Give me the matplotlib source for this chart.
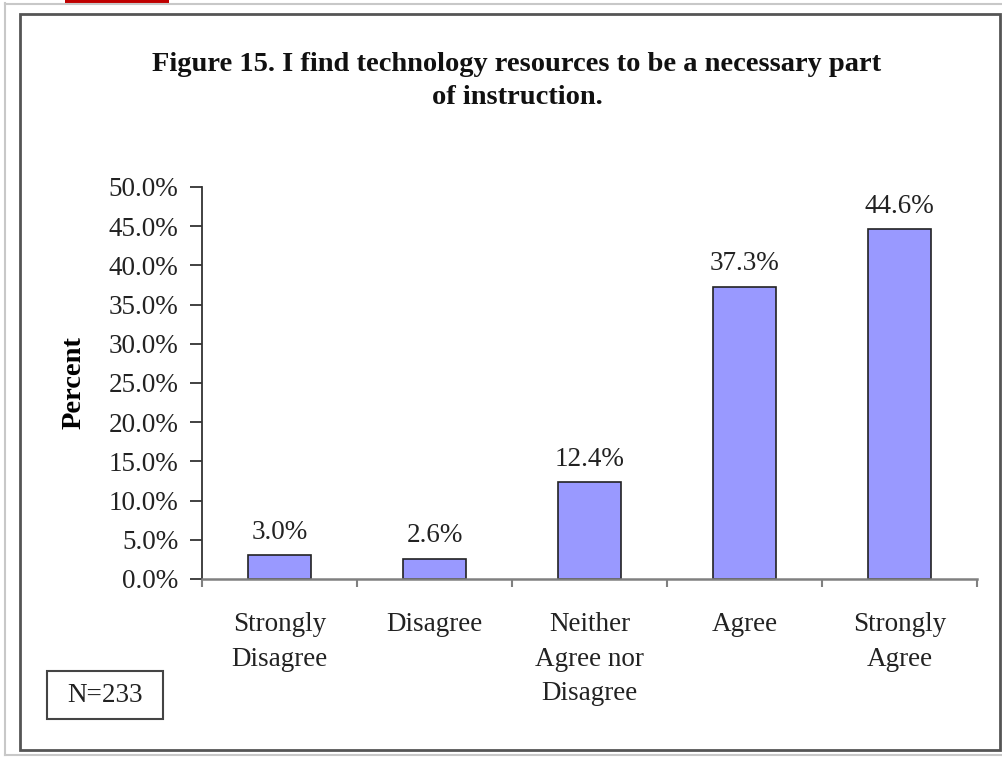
import matplotlib.pyplot as plt
from matplotlib.patches import Rectangle
from matplotlib.lines import Line2D

categories = ['Strongly\nDisagree', 'Disagree', 'Neither\nAgree nor\nDisagree', 'Agree', 'Strongly\nAgree']
percents = [3.0, 2.6, 12.4, 37.3, 44.6]
yticks = [0, 5, 10, 15, 20, 25, 30, 35, 40, 45, 50]

plt.rcParams['font.family'] = 'Liberation Serif'

W, H = 1002, 759
fig = plt.figure(figsize=(W / 100, H / 100), dpi=100)

def fx(px):
    return px / W

def fy(py):
    return 1 - py / H

# page decorations
fig.add_artist(Line2D([fx(5), fx(5)], [fy(3), fy(755)], color='#c8c8c8', lw=1.5))
fig.add_artist(Line2D([fx(5), fx(1002)], [fy(3.5), fy(3.5)], color='#c8c8c8', lw=1.5))
fig.add_artist(Line2D([fx(5), fx(1002)], [fy(755), fy(755)], color='#c8c8c8', lw=1.5))
fig.add_artist(Rectangle((fx(65), fy(3)), fx(104), 3 / H, color='#c00000', lw=0))
fig.add_artist(Rectangle((fx(20), fy(750)), fx(980), 736 / H, fill=False,
                         edgecolor='#555555', lw=2))

ax = fig.add_axes([fx(202), fy(579), fx(775), 392 / H])
x = range(len(categories))
bars = ax.bar(x, percents, width=0.41, color='#9999ff', edgecolor='#222222', lw=1.2)
for b, v in zip(bars, percents):
    ax.text(b.get_x() + b.get_width() / 2, v + 2.9, f'{v:.1f}%', ha='center', va='center',
            fontsize=19.5, color='#222222')

ax.set_xlim(-0.5, len(categories) - 0.5)
ax.set_ylim(0, 50)
ax.set_yticks(yticks)
ax.set_yticklabels([f'{t:.1f}%' for t in yticks], fontsize=19.5, color='#222222')
ax.set_xticks([i - 0.5 for i in range(len(categories) + 1)])
ax.set_xticklabels([])
ax.set_xticks(list(x), minor=True)
ax.set_xticklabels(categories, minor=True, fontsize=19.5, color='#222222', linespacing=1.5)
ax.tick_params(axis='x', which='minor', length=0, pad=24)
ax.tick_params(axis='x', which='major', length=6, color='#808080', width=1.5)
ax.tick_params(axis='y', length=9, width=1.3, color='#333333', pad=8)
for s in ['top', 'right']:
    ax.spines[s].set_visible(False)
ax.spines['left'].set_color('#333333')
ax.spines['left'].set_linewidth(1.3)
ax.spines['bottom'].set_color('#808080')
ax.spines['bottom'].set_linewidth(1.8)
ax.set_ylabel('Percent', fontsize=20.5, fontweight='bold', labelpad=16)

fig.text(fx(517), fy(81), 'Figure 15. I find technology resources to be a necessary part\nof instruction.',
         ha='center', va='center', fontsize=20.5, fontweight='bold', linespacing=1.4, color='#111111')

fig.text(fx(105), fy(695), 'N=233', ha='center', va='center', fontsize=19.5, color='#222222')
fig.add_artist(Rectangle((fx(47), fy(719)), fx(116), 48 / H, fill=False,
                         edgecolor='#444444', lw=1.5))

fig.savefig('out.png', dpi=100)
